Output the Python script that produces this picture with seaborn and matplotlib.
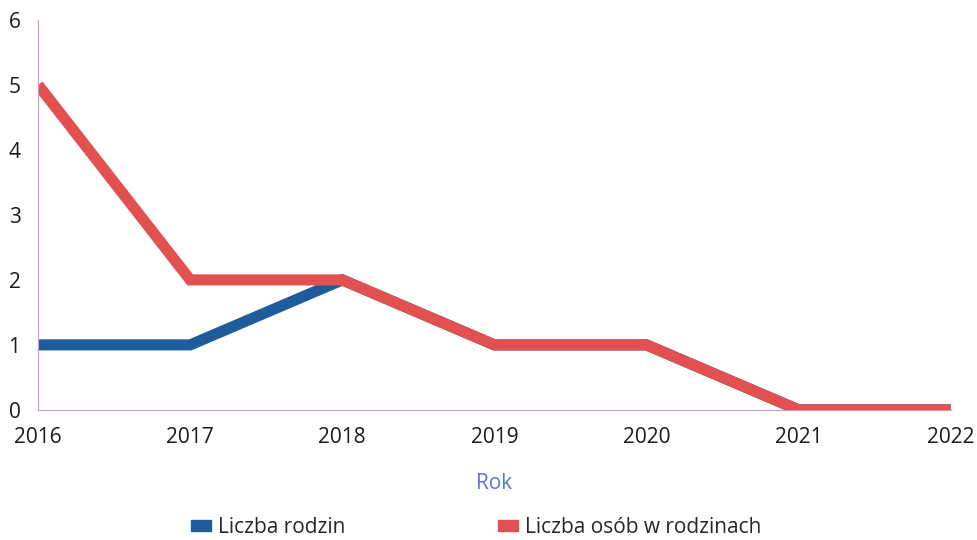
import matplotlib.pyplot as plt
from matplotlib.patches import Patch
import pandas as pd
import seaborn as sns

years = [2016, 2017, 2018, 2019, 2020, 2021, 2022]
rodziny = [1, 1, 2, 1, 1, 0, 0]
osoby = [5, 2, 2, 1, 1, 0, 0]
series_names = ["Liczba rodzin", "Liczba osób w rodzinach"]
colors = ["#1f5c9c", "#e2504f"]

df = pd.concat([
    pd.DataFrame({"Rok": years, "value": rodziny, "seria": series_names[0]}),
    pd.DataFrame({"Rok": years, "value": osoby, "seria": series_names[1]}),
])

sns.set_style("white")
plt.rcParams["font.family"] = ["Open Sans", "DejaVu Sans"]
plt.rcParams["font.weight"] = 500

fig = plt.figure(figsize=(9.78, 5.40), dpi=100)
ax = fig.add_axes([0.039, 0.241, 0.933, 0.722])

sns.lineplot(data=df, x="Rok", y="value", hue="seria", hue_order=series_names,
             palette=colors, linewidth=8, ax=ax, legend=False,
             solid_capstyle="butt", solid_joinstyle="miter")

ax.set_xlim(2016, 2022)
ax.set_ylim(0, 6)
ax.set_xticks(years)
ax.set_yticks(range(7))
ax.tick_params(axis="both", length=0, labelsize=15, labelcolor="#1a1a1a")
ax.tick_params(axis="x", pad=12)
for lbl in ax.get_yticklabels():
    lbl.set_horizontalalignment("center")
ax.yaxis.set_tick_params(pad=17)
for side in ["top", "right"]:
    ax.spines[side].set_visible(False)
for side in ["left", "bottom"]:
    ax.spines[side].set_color("#c99ad0")
    ax.spines[side].set_linewidth(0.8)

ax.set_xlabel("Rok", fontsize=15, color="#5b78c8", labelpad=18)
ax.set_ylabel("")

handles = [Patch(facecolor=c, edgecolor=c) for c in colors]
fig.legend(handles, series_names, loc="center", bbox_to_anchor=(0.487, 0.024),
           ncol=2, frameon=False, fontsize=15, columnspacing=7.3,
           handlelength=0.95, handleheight=0.45, handletextpad=0.35)

fig.savefig("out.png", dpi=100)
